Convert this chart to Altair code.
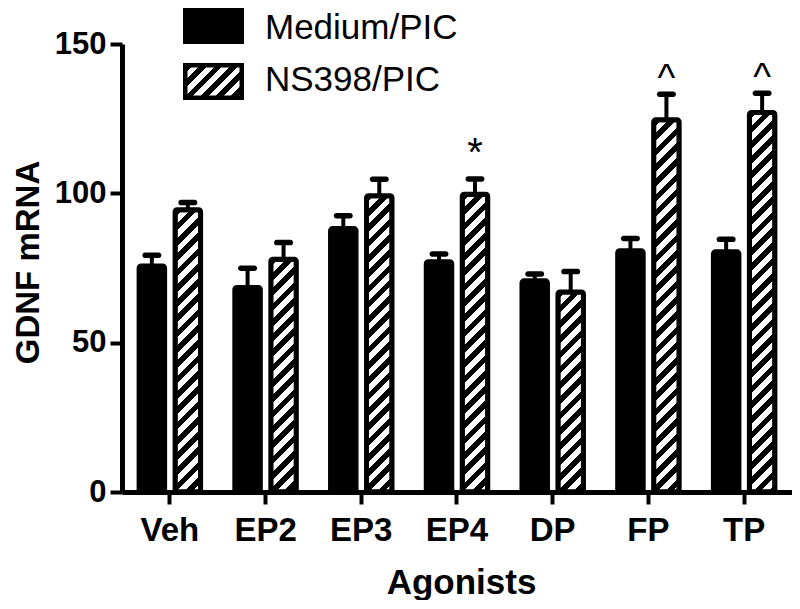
import altair as alt

# ---- data ----
agonists = ["Veh", "EP2", "EP3", "EP4", "DP", "FP", "TP"]
series = ["Medium/PIC", "NS398/PIC"]
medium_mean = [75.7, 68.5, 88.2, 77.1, 70.7, 80.8, 80.4]
medium_sem = [3.6, 6.4, 4.3, 2.6, 2.3, 4.1, 4.2]
ns398_mean = [94.5, 77.9, 99.2, 99.7, 67.0, 124.6, 127.1]
ns398_sem = [2.4, 5.6, 5.5, 5.1, 6.8, 8.6, 6.4]
markers = ["", "", "", "*", "", "^", "^"]
y_ticks = [0, 50, 100, 150]

# ---- layout / style ----
W_PLOT, H_PLOT = 670, 448
Y_MAX = 150
PX = H_PLOT / Y_MAX
BAR_W = 25.5
BAR_STROKE = 5
FONT = "Liberation Sans, Arial, Helvetica, sans-serif"


def hatch(w, h, period=15.3, frac=0.5):
    """Diagonal '/' stripes as a hard-stop linear gradient in bbox units."""
    L = w + h
    k = (1 / h + 1 / w) / (1 / h ** 2 + 1 / w ** 2)
    stops = []
    pos = 0.0
    while pos < L:
        a = round(pos / L, 5)
        b = round(min((pos + period * frac) / L, 1), 5)
        c = round(min((pos + period) / L, 1), 5)
        stops += [
            {"offset": a, "color": "black"},
            {"offset": b, "color": "black"},
            {"offset": b, "color": "white"},
            {"offset": c, "color": "white"},
        ]
        pos += period
    return {"gradient": "linear", "x1": 0, "y1": 0,
            "x2": round(k / h, 6), "y2": round(k / w, 6), "stops": stops}


rows = []
for i, a in enumerate(agonists):
    for s, means, sems in ((series[0], medium_mean, medium_sem),
                           (series[1], ns398_mean, ns398_sem)):
        m, e = means[i], sems[i]
        rows.append({
            "agonist": a, "series": s, "mean": m, "upper": m + e,
            "fill": "black" if s == series[0] else hatch(BAR_W, m * PX),
            "marker": markers[i] if s == series[1] else "",
        })

data = alt.Data(values=rows)
base = alt.Chart(data)

x_axis = alt.Axis(
    title="Agonists", labelAngle=0, grid=False,
    domainWidth=5, domainColor="black", tickWidth=4, tickSize=12, tickColor="black",
    labelFont=FONT, labelFontSize=33, labelFontWeight="bold", labelColor="black",
    labelBaseline="alphabetic", labelPadding=36,
    titleFont=FONT, titleFontSize=35, titleFontWeight="bold", titleColor="black",
    titleX=339, titleY=101, titleBaseline="alphabetic", titleAlign="center",
)
y_axis = alt.Axis(
    values=y_ticks, title="GDNF mRNA", grid=False,
    domainWidth=5, domainColor="black", tickWidth=4, tickSize=12, tickColor="black",
    labelFont=FONT, labelFontSize=31, labelFontWeight="bold", labelColor="black",
    labelPadding=4,
    titleFont=FONT, titleFontSize=33, titleFontWeight="bold", titleColor="black",
    titleX=-84, titleY=218, titleAlign="center", titleBaseline="alphabetic", titleAngle=270,
)

x_enc = alt.X("agonist:N", sort=agonists,
              scale=alt.Scale(paddingInner=0, paddingOuter=0), axis=x_axis)
xo_enc = alt.XOffset("series:N", sort=series,
                     scale=alt.Scale(paddingInner=0, paddingOuter=0.33))
y_scale = alt.Scale(domain=[0, Y_MAX], nice=False, zero=True)


def y_enc(field):
    return alt.Y(f"{field}:Q", scale=y_scale, axis=y_axis, title="GDNF mRNA")


bars = base.mark_bar(width=BAR_W, stroke="black", strokeWidth=BAR_STROKE,
                     cornerRadius=2).encode(
    x=x_enc, xOffset=xo_enc, y=y_enc("mean"),
    fill=alt.Fill("fill:N", scale=None),
)

stems = base.mark_rule(color="black", strokeWidth=4).encode(
    x=x_enc, xOffset=xo_enc, y=y_enc("mean"), y2="upper:Q",
)

caps = base.mark_tick(color="black", thickness=5.5, size=19,
                      cornerRadius=2.7, opacity=1).encode(
    x=x_enc, xOffset=xo_enc, y=y_enc("upper"),
)

star = base.transform_filter("datum.marker == '*'").mark_text(
    font=FONT, fontSize=40, baseline="alphabetic", dy=-13, color="black"
).encode(x=x_enc, xOffset=xo_enc, y=y_enc("upper"), text="marker:N")

caret = base.transform_filter("datum.marker == '^'").mark_text(
    font=FONT, fontSize=38, baseline="alphabetic", dy=-3, color="black"
).encode(x=x_enc, xOffset=xo_enc, y=y_enc("upper"), text="marker:N")

# ---- legend drawn by hand (hatched swatch) ----
leg1 = alt.Data(values=[{"label": series[0]}])
leg2 = alt.Data(values=[{"label": series[1]}])

sw1 = alt.Chart(leg1).mark_rect(fill="black").encode(
    x=alt.value(61), x2=alt.value(122), y=alt.value(-36), y2=alt.value(0))
sw2 = alt.Chart(leg2).mark_rect(
    fill=hatch(56.5, 32.5), stroke="black", strokeWidth=4.5).encode(
    x=alt.value(63.25), x2=alt.value(119.75), y=alt.value(21.25), y2=alt.value(53.75))
tx1 = alt.Chart(leg1).mark_text(font=FONT, fontSize=35, align="left",
                                baseline="alphabetic", color="black").encode(
    x=alt.value(143), y=alt.value(-5), text="label:N")
tx2 = alt.Chart(leg2).mark_text(font=FONT, fontSize=35, align="left",
                                baseline="alphabetic", color="black").encode(
    x=alt.value(143), y=alt.value(47), text="label:N")

chart = alt.layer(bars, stems, caps, star, caret, sw1, sw2, tx1, tx2).properties(
    width=W_PLOT, height=H_PLOT,
    autosize=alt.AutoSizeParams(type="none"),
    padding={"left": 114, "top": 36, "right": 0, "bottom": 108},
    background="white",
).configure_view(stroke=None)

chart.save("out.html", embed_options={"renderer": "svg", "actions": False})
